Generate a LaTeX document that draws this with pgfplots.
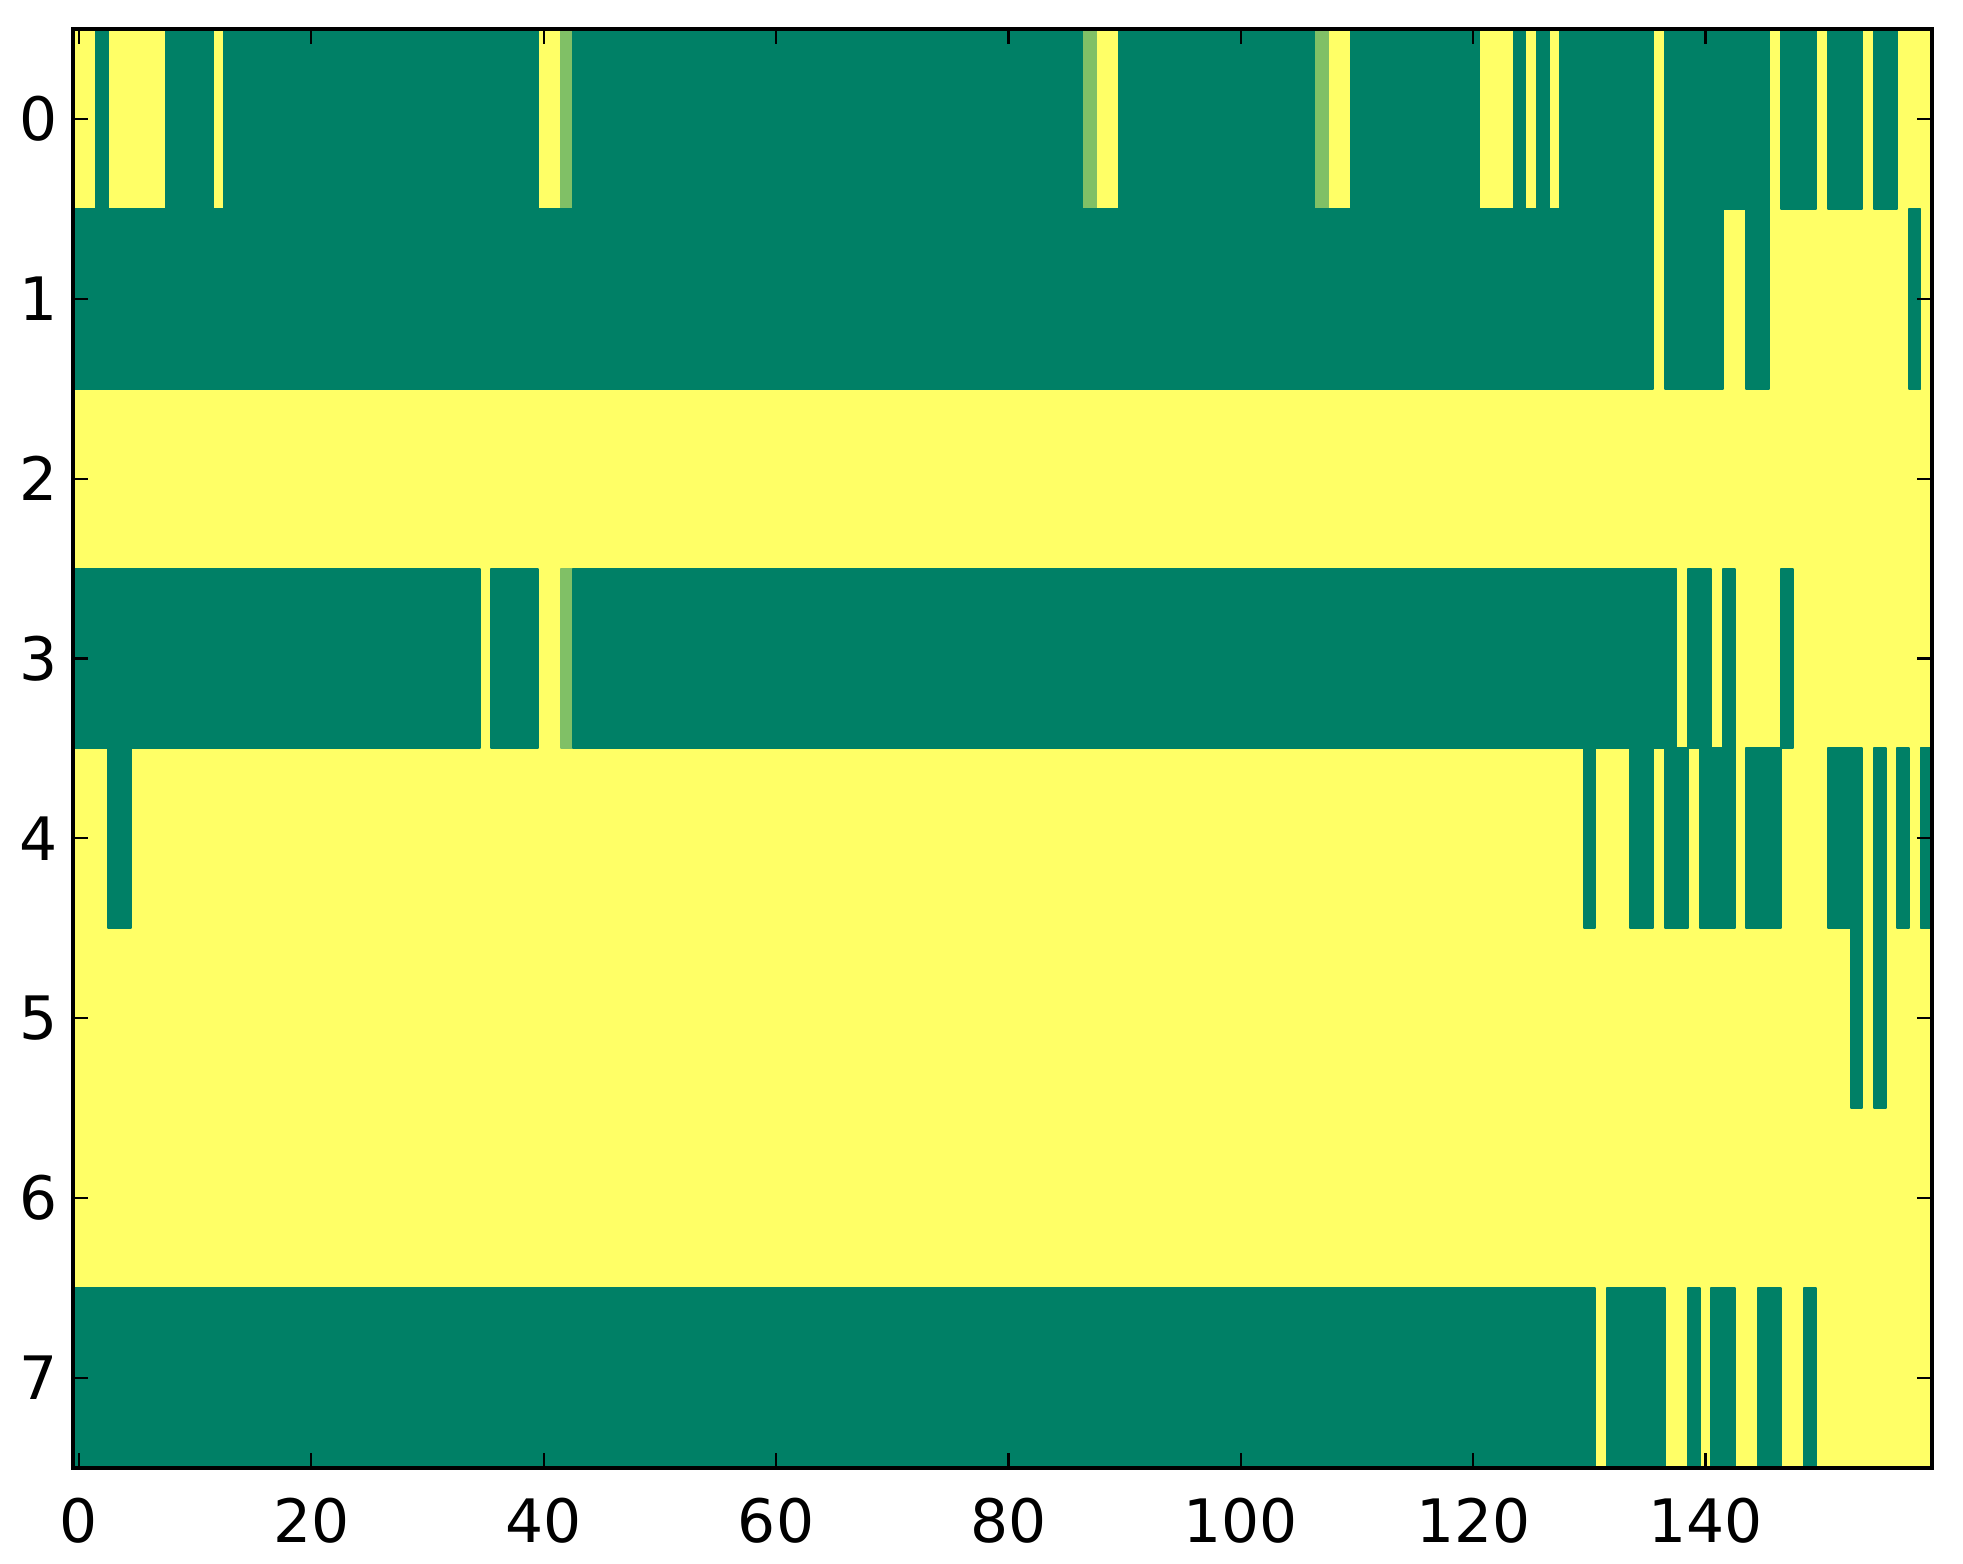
\documentclass[border=0pt]{standalone}
\usepackage{pgfplots}
\pgfplotsset{compat=1.18}
\usepackage{fontspec}
\setmainfont{DejaVu Sans}

\begin{document}
\begin{tikzpicture}
\begin{axis}[
  width=378.8pt, height=293.2pt, scale only axis,
  xmin=-0.5, xmax=159.5, ymin=-0.5, ymax=7.5,
  y dir=reverse,
  xtick={0,20,40,60,80,100,120,140},
  ytick={0,1,2,3,4,5,6,7},
  tick align=inside,
  major tick length=3pt,
  tick style={line width=0.45pt, black},
  axis line style={line width=0.85pt},
  axis on top,
  /pgf/number format/assume math mode=true,
  tick label style={font=\fontsize{12.2}{14}\selectfont},
  xticklabel style={yshift=-2.6pt},
  yticklabel style={xshift=0.4pt},
  colormap={summer}{rgb255=(0,128,102) rgb255=(255,255,102)},
  point meta min=0, point meta max=1,
]
% background: every cell not listed below is 1 (yellow)
\addplot[patch, patch type=rectangle, shader=flat, point meta=explicit] coordinates {
(-0.5,-0.5)[1] (159.5,-0.5)[1] (159.5,7.5)[1] (-0.5,7.5)[1]
};
% runs of 0 (green) and 0.5 (light green), one rectangle per run
\addplot[patch, patch type=rectangle, shader=flat, point meta=explicit] coordinates {
(1.5,-0.5)[0] (2.5,-0.5)[0] (2.5,0.5)[0] (1.5,0.5)[0]
(7.5,-0.5)[0] (11.5,-0.5)[0] (11.5,0.5)[0] (7.5,0.5)[0]
(12.5,-0.5)[0] (39.5,-0.5)[0] (39.5,0.5)[0] (12.5,0.5)[0]
(41.5,-0.5)[0.5] (42.5,-0.5)[0.5] (42.5,0.5)[0.5] (41.5,0.5)[0.5]
(42.5,-0.5)[0] (86.5,-0.5)[0] (86.5,0.5)[0] (42.5,0.5)[0]
(86.5,-0.5)[0.5] (87.5,-0.5)[0.5] (87.5,0.5)[0.5] (86.5,0.5)[0.5]
(89.5,-0.5)[0] (106.5,-0.5)[0] (106.5,0.5)[0] (89.5,0.5)[0]
(106.5,-0.5)[0.5] (107.5,-0.5)[0.5] (107.5,0.5)[0.5] (106.5,0.5)[0.5]
(109.5,-0.5)[0] (120.5,-0.5)[0] (120.5,0.5)[0] (109.5,0.5)[0]
(123.5,-0.5)[0] (124.5,-0.5)[0] (124.5,0.5)[0] (123.5,0.5)[0]
(125.5,-0.5)[0] (126.5,-0.5)[0] (126.5,0.5)[0] (125.5,0.5)[0]
(127.5,-0.5)[0] (135.5,-0.5)[0] (135.5,0.5)[0] (127.5,0.5)[0]
(136.5,-0.5)[0] (145.5,-0.5)[0] (145.5,0.5)[0] (136.5,0.5)[0]
(146.5,-0.5)[0] (149.5,-0.5)[0] (149.5,0.5)[0] (146.5,0.5)[0]
(150.5,-0.5)[0] (153.5,-0.5)[0] (153.5,0.5)[0] (150.5,0.5)[0]
(154.5,-0.5)[0] (156.5,-0.5)[0] (156.5,0.5)[0] (154.5,0.5)[0]
(-0.5,0.5)[0] (135.5,0.5)[0] (135.5,1.5)[0] (-0.5,1.5)[0]
(136.5,0.5)[0] (141.5,0.5)[0] (141.5,1.5)[0] (136.5,1.5)[0]
(143.5,0.5)[0] (145.5,0.5)[0] (145.5,1.5)[0] (143.5,1.5)[0]
(157.5,0.5)[0] (158.5,0.5)[0] (158.5,1.5)[0] (157.5,1.5)[0]
(-0.5,2.5)[0] (34.5,2.5)[0] (34.5,3.5)[0] (-0.5,3.5)[0]
(35.5,2.5)[0] (39.5,2.5)[0] (39.5,3.5)[0] (35.5,3.5)[0]
(41.5,2.5)[0.5] (42.5,2.5)[0.5] (42.5,3.5)[0.5] (41.5,3.5)[0.5]
(42.5,2.5)[0] (137.5,2.5)[0] (137.5,3.5)[0] (42.5,3.5)[0]
(138.5,2.5)[0] (140.5,2.5)[0] (140.5,3.5)[0] (138.5,3.5)[0]
(141.5,2.5)[0] (142.5,2.5)[0] (142.5,3.5)[0] (141.5,3.5)[0]
(146.5,2.5)[0] (147.5,2.5)[0] (147.5,3.5)[0] (146.5,3.5)[0]
(2.5,3.5)[0] (4.5,3.5)[0] (4.5,4.5)[0] (2.5,4.5)[0]
(129.5,3.5)[0] (130.5,3.5)[0] (130.5,4.5)[0] (129.5,4.5)[0]
(133.5,3.5)[0] (135.5,3.5)[0] (135.5,4.5)[0] (133.5,4.5)[0]
(136.5,3.5)[0] (138.5,3.5)[0] (138.5,4.5)[0] (136.5,4.5)[0]
(139.5,3.5)[0] (142.5,3.5)[0] (142.5,4.5)[0] (139.5,4.5)[0]
(143.5,3.5)[0] (146.5,3.5)[0] (146.5,4.5)[0] (143.5,4.5)[0]
(150.5,3.5)[0] (153.5,3.5)[0] (153.5,4.5)[0] (150.5,4.5)[0]
(154.5,3.5)[0] (155.5,3.5)[0] (155.5,4.5)[0] (154.5,4.5)[0]
(156.5,3.5)[0] (157.5,3.5)[0] (157.5,4.5)[0] (156.5,4.5)[0]
(158.5,3.5)[0] (159.5,3.5)[0] (159.5,4.5)[0] (158.5,4.5)[0]
(152.5,4.5)[0] (153.5,4.5)[0] (153.5,5.5)[0] (152.5,5.5)[0]
(154.5,4.5)[0] (155.5,4.5)[0] (155.5,5.5)[0] (154.5,5.5)[0]
(-0.5,6.5)[0] (130.5,6.5)[0] (130.5,7.5)[0] (-0.5,7.5)[0]
(131.5,6.5)[0] (136.5,6.5)[0] (136.5,7.5)[0] (131.5,7.5)[0]
(138.5,6.5)[0] (139.5,6.5)[0] (139.5,7.5)[0] (138.5,7.5)[0]
(140.5,6.5)[0] (142.5,6.5)[0] (142.5,7.5)[0] (140.5,7.5)[0]
(144.5,6.5)[0] (146.5,6.5)[0] (146.5,7.5)[0] (144.5,7.5)[0]
(148.5,6.5)[0] (149.5,6.5)[0] (149.5,7.5)[0] (148.5,7.5)[0]
};
\end{axis}
% page margins as in the reference
\path ([shift={(-14.9pt,-19.6pt)}]current axis.south west)
  rectangle ([shift={(6.3pt,5.9pt)}]current axis.north east);
\end{tikzpicture}
\end{document}
